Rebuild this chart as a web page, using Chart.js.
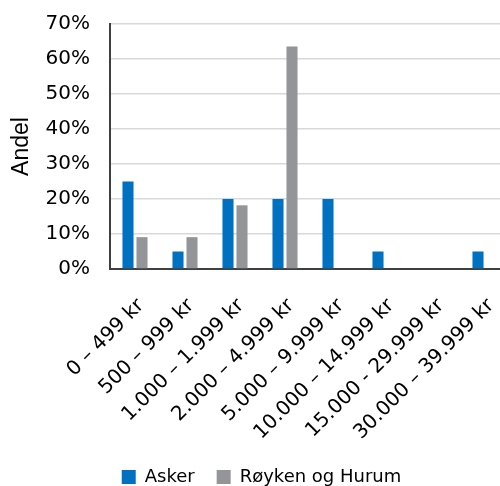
<!DOCTYPE html>
<html>
<head>
<meta charset="utf-8">
<script src="https://cdn.jsdelivr.net/npm/chart.js@4"></script>
<style>
  html, body { margin: 0; padding: 0; background: #fff; overflow: hidden; }
  #wrap { width: 510px; height: 486px; }
</style>
</head>
<body>
<div id="wrap"><canvas id="graf"></canvas></div>
<script>
// Andel per beloepsintervall
const kategorier = ['0 – 499 kr', '500 – 999 kr', '1.000 – 1.999 kr', '2.000 – 4.999 kr',
                    '5.000 – 9.999 kr', '10.000 – 14.999 kr', '15.000 - 29.999 kr', '30.000 – 39.999 kr'];
const asker  = [0.25, 0.05, 0.20, 0.20, 0.20, 0.05, 0, 0.05];
const royken = [0.091, 0.091, 0.182, 0.636, 0, 0, 0, 0];
const yTicks = [0, 0.1, 0.2, 0.3, 0.4, 0.5, 0.6, 0.7];

const FONT = 'DejaVu Sans';

new Chart(document.getElementById('graf'), {
  type: 'bar',
  data: {
    labels: kategorier,
    datasets: [
      { label: 'Asker',           data: asker,  backgroundColor: '#0070c0' },
      { label: 'Røyken og Hurum', data: royken, backgroundColor: '#939598' },
    ],
  },
  options: {
    responsive: true,
    maintainAspectRatio: false,
    animation: false,
    layout: { padding: { top: 24, right: 0, bottom: -10, left: 13 } },
    datasets: { bar: { categoryPercentage: 0.56, barPercentage: 0.79 } },
    plugins: {
      tooltip: { enabled: false },
      legend: {
        position: 'bottom',
        labels: {
          font: { family: FONT, size: 18 },
          color: '#000',
          boxWidth: 14, boxHeight: 14,
          padding: 22,
        },
      },
    },
    scales: {
      x: {
        afterFit: s => { s.height = 177; s.paddingLeft = 0; s.paddingRight = 0; },
        grid: { display: false },
        border: { display: true, color: '#404040', width: 2 },
        ticks: {
          font: { family: FONT, size: 20 },
          color: '#000',
          minRotation: 45, maxRotation: 45,
          autoSkip: false,
          padding: 17,
          labelOffset: 6,
        },
      },
      y: {
        min: 0, max: 0.7,
        afterBuildTicks: s => { s.ticks = yTicks.map(v => ({ value: v })); },
        afterFit: s => { s.width = 97; s.paddingTop = 0; s.paddingBottom = 0; },
        grid: { color: '#d9d9d9', lineWidth: 1.5, drawTicks: false },
        border: { display: true, color: '#404040', width: 2 },
        ticks: {
          font: { family: FONT, size: 20 },
          color: '#000',
          padding: 20,
          callback: v => Math.round(v * 100) + '%',
        },
        title: {
          display: true, text: 'Andel',
          font: { family: 'Liberation Sans', size: 23 },
          color: '#000',
          padding: { top: -5, bottom: 0 },
        },
      },
    },
  },
});
</script>
</body>
</html>
